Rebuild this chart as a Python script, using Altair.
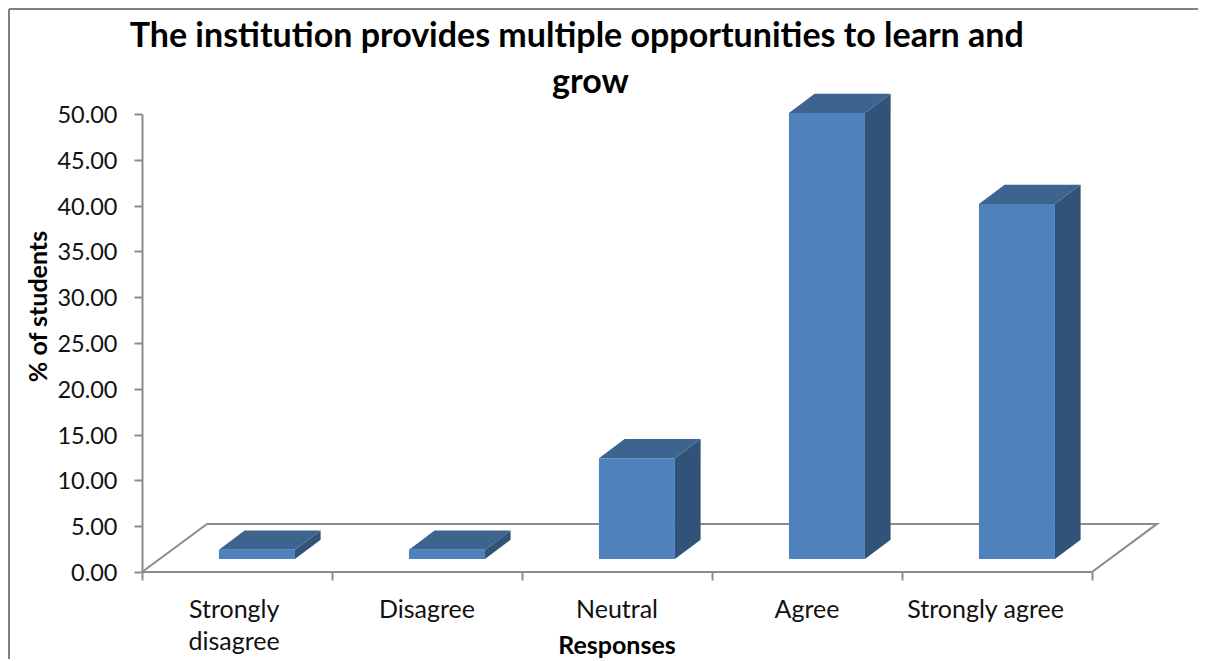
import altair as alt
import pandas as pd

categories = ["Strongly disagree", "Disagree", "Neutral", "Agree", "Strongly agree"]
values = [1.0, 1.0, 11.0, 48.7, 38.75]
label_lines = [["Strongly", "disagree"], ["Disagree"], ["Neutral"], ["Agree"], ["Strongly agree"]]
label_pos = [0.485, 1.5, 2.5, 3.5, 4.44]
y_ticks = [0, 5, 10, 15, 20, 25, 30, 35, 40, 45, 50]
x_ticks = [0, 1, 2, 3, 4, 5]
title_line_1 = "The institution provides multiple opportunities to learn and"
title_line_2 = "grow"

FRONT = "#4f81bd"
SIDE = "#325378"
TOP = "#3c648f"
GREY = "#8c8c8c"
FONT = "Lato"

BASE = 1.42
BAR_L = 0.405
BAR_W = 0.40
DX = 0.135
DY = 2.1
FLOOR_DX = 65 / 190
FLOOR_DY = 5.25
XMAX = 5 + FLOOR_DX

x_scale = alt.Scale(domain=[0, XMAX], nice=False, zero=False)
y_scale = alt.Scale(domain=[0, 50], nice=False, zero=False)
X = alt.X("x:Q", scale=x_scale, axis=alt.Axis(values=x_ticks, labels=False, domain=False, ticks=True, tickColor=GREY,
                                              tickSize=8, tickWidth=2, grid=False, title=None))
Y = alt.Y("y:Q", scale=y_scale, axis=alt.Axis(values=y_ticks, format=".2f", domainColor=GREY, domainWidth=2,
                                              tickColor=GREY, tickSize=8, tickWidth=2, grid=False,
                                              labelFont=FONT, labelFontSize=23.5, labelColor="#111111", labelPadding=17,
                                              labelOffset=1.5,
                                              title="% of students", titleFont=FONT, titleFontSize=25,
                                              titleFontWeight="bold", titleColor="#000000", titlePadding=5, titleY=192))

floor = pd.DataFrame({"x": [0, FLOOR_DX, XMAX, 5, 0], "y": [0, FLOOR_DY, FLOOR_DY, 0, 0], "o": range(5)})
layers = [alt.Chart(floor).mark_line(color=GREY, strokeWidth=2, clip=False).encode(x=X, y=Y, order="o:O")]

for i, v in enumerate(values):
    l = i + BAR_L
    r = l + BAR_W
    top = BASE + v
    front = pd.DataFrame([{"x": l, "y": top, "y2": BASE}, {"x": r, "y": top, "y2": BASE}])
    side = pd.DataFrame([{"x": r, "y": top, "y2": BASE}, {"x": r + DX, "y": top + DY, "y2": BASE + DY}])
    cap = pd.DataFrame([
        {"x": l, "y": top, "y2": top},
        {"x": l + DX, "y": top + DY, "y2": top},
        {"x": r, "y": top + DY, "y2": top},
        {"x": r + DX, "y": top + DY, "y2": top + DY},
    ])
    for df, c in ((side, SIDE), (cap, TOP), (front, FRONT)):
        layers.append(alt.Chart(df).mark_area(color=c, clip=False).encode(x=X, y=Y, y2="y2:Q"))

labels = pd.DataFrame({"x": label_pos, "t": label_lines, "y": [0] * 5})
layers.append(alt.Chart(labels).mark_text(font=FONT, fontSize=25, color="#111111", baseline="top",
                                          lineHeight=32, clip=False, yOffset=26).encode(x=X, y=Y, text="t"))

xtitle = pd.DataFrame({"x": [2.5], "y": [0], "t": ["Responses"]})
layers.append(alt.Chart(xtitle).mark_text(font=FONT, fontSize=25, fontWeight="bold", color="#000000",
                                          baseline="top", clip=False, yOffset=62).encode(x=X, y=Y, text="t"))

for tx, txt, off in ((2.288, title_line_1, -94), (2.36, title_line_2, -48)):
    t_df = pd.DataFrame({"x": [tx], "y": [50], "t": [txt]})
    layers.append(alt.Chart(t_df).mark_text(font=FONT, fontSize=34, fontWeight="bold", color="#000000",
                                            baseline="top", clip=False, yOffset=off).encode(x=X, y=Y, text="t"))

# chart frame, top and left edges only
layers.append(alt.Chart(pd.DataFrame({"a": [0]})).mark_rule(color="#808080", strokeWidth=2).encode(
    x=alt.value(-133), x2=alt.value(1064), y=alt.value(-105)))
layers.append(alt.Chart(pd.DataFrame({"a": [0]})).mark_rule(color="#808080", strokeWidth=2).encode(
    x=alt.value(-133), y=alt.value(-105), y2=alt.value(545)))

chart = alt.layer(*layers).properties(
    width=1015, height=458,
    padding={"left": 134, "top": 106, "right": 41, "bottom": 87},
    autosize=alt.AutoSizeParams(type="none"),
    background="white",
).configure_view(stroke="transparent")
chart.save("out.html", embed_options={"renderer": "svg", "actions": False})
